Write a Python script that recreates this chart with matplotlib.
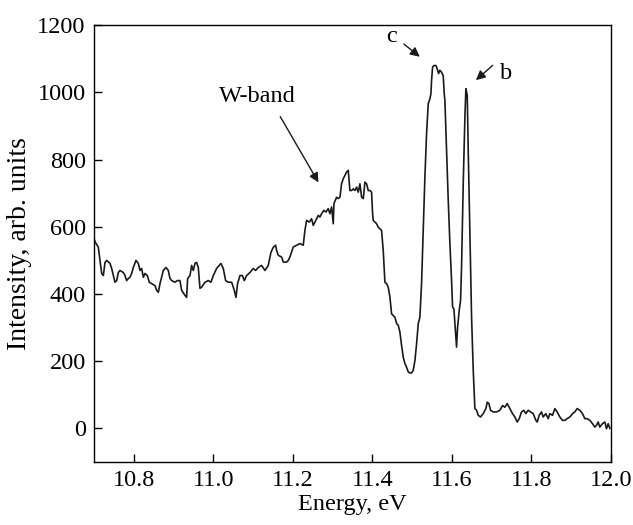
import matplotlib
matplotlib.use("Agg")
import matplotlib.pyplot as plt

plt.rcParams['font.family'] = ['Liberation Serif', 'DejaVu Serif']

# photon energy, eV
energy = [
    10.7000, 10.7025, 10.7109, 10.7151, 10.7193, 10.7235, 10.7277, 10.7319, 10.7402, 10.7444,
    10.7486, 10.7528, 10.7570, 10.7612, 10.7654, 10.7738, 10.7779, 10.7821, 10.7863, 10.7905,
    10.7947, 10.7989, 10.8056, 10.8115, 10.8157, 10.8199, 10.8240, 10.8282, 10.8341, 10.8391,
    10.8450, 10.8534, 10.8576, 10.8618, 10.8660, 10.8701, 10.8743, 10.8810, 10.8869, 10.8911,
    10.8953, 10.9037, 10.9095, 10.9162, 10.9204, 10.9288, 10.9330, 10.9355, 10.9414, 10.9456,
    10.9498, 10.9540, 10.9582, 10.9623, 10.9665, 10.9707, 10.9791, 10.9875, 10.9942, 11.0001,
    11.0084, 11.0193, 11.0252, 11.0311, 11.0378, 11.0462, 11.0529, 11.0571, 11.0612, 11.0671,
    11.0730, 11.0780, 11.0839, 11.0923, 11.1006, 11.1065, 11.1132, 11.1216, 11.1300, 11.1383,
    11.1451, 11.1509, 11.1568, 11.1593, 11.1635, 11.1719, 11.1761, 11.1845, 11.1886, 11.1928,
    11.1970, 11.2012, 11.2096, 11.2180, 11.2263, 11.2305, 11.2347, 11.2414, 11.2473, 11.2515,
    11.2557, 11.2641, 11.2683, 11.2725, 11.2783, 11.2833, 11.2892, 11.2934, 11.2976, 11.3018,
    11.3035, 11.3102, 11.3144, 11.3186, 11.3227, 11.3269, 11.3311, 11.3353, 11.3395, 11.3437,
    11.3479, 11.3521, 11.3563, 11.3605, 11.3647, 11.3689, 11.3731, 11.3773, 11.3814, 11.3856,
    11.3898, 11.3940, 11.3982, 11.4007, 11.4024, 11.4066, 11.4108, 11.4149, 11.4191, 11.4233,
    11.4275, 11.4317, 11.4359, 11.4401, 11.4443, 11.4485, 11.4527, 11.4569, 11.4611, 11.4652,
    11.4694, 11.4736, 11.4778, 11.4820, 11.4862, 11.4904, 11.4946, 11.4988, 11.5030, 11.5072,
    11.5114, 11.5156, 11.5197, 11.5239, 11.5281, 11.5323, 11.5365, 11.5407, 11.5449, 11.5474,
    11.5491, 11.5516, 11.5549, 11.5600, 11.5633, 11.5667, 11.5700, 11.5742, 11.5784, 11.5809,
    11.5826, 11.5868, 11.5910, 11.5952, 11.5994, 11.6019, 11.6052, 11.6077, 11.6119, 11.6145,
    11.6186, 11.6220, 11.6245, 11.6287, 11.6329, 11.6354, 11.6388, 11.6413, 11.6455, 11.6497,
    11.6539, 11.6580, 11.6622, 11.6664, 11.6723, 11.6790, 11.6857, 11.6890, 11.6932, 11.6974,
    11.7041, 11.7125, 11.7209, 11.7276, 11.7334, 11.7393, 11.7460, 11.7527, 11.7586, 11.7645,
    11.7695, 11.7754, 11.7812, 11.7862, 11.7921, 11.7980, 11.8047, 11.8114, 11.8148, 11.8198,
    11.8256, 11.8298, 11.8365, 11.8424, 11.8466, 11.8533, 11.8592, 11.8650, 11.8717, 11.8784,
    11.8843, 11.8902, 11.8969, 11.9036, 11.9094, 11.9153, 11.9220, 11.9287, 11.9346, 11.9404,
    11.9471, 11.9539, 11.9597, 11.9639, 11.9681, 11.9723, 11.9790, 11.9849, 11.9891, 11.9933,
    11.9975,
]

# intensity, arb. units
intensity = [
    565, 556, 539, 500, 461, 455, 494, 500, 491, 476,
    455, 435, 440, 464, 470, 464, 455, 440, 446, 450,
    461, 479, 500, 491, 470, 476, 450, 461, 455, 435,
    431, 425, 411, 405, 431, 450, 470, 479, 470, 446,
    440, 435, 440, 440, 411, 396, 390, 446, 455, 485,
    470, 491, 494, 479, 417, 420, 435, 440, 435, 455,
    476, 491, 476, 440, 435, 435, 411, 390, 431, 455,
    455, 440, 455, 464, 476, 470, 479, 485, 470, 485,
    524, 539, 545, 530, 515, 510, 495, 495, 500, 510,
    525, 540, 545, 550, 545, 589, 619, 614, 624, 604,
    614, 634, 629, 639, 649, 644, 654, 639, 659, 609,
    669, 688, 684, 688, 728, 743, 753, 763, 768, 708,
    708, 713, 708, 718, 703, 728, 688, 684, 733, 728,
    708, 708, 703, 639, 619, 614, 609, 599, 594, 589,
    530, 435, 431, 420, 391, 341, 336, 331, 312, 307,
    287, 247, 212, 193, 182, 168, 165, 165, 173, 202,
    252, 312, 331, 431, 589, 748, 877, 966, 981, 996,
    1036, 1075, 1080, 1080, 1070, 1056, 1066, 1060, 1050, 996,
    976, 827, 679, 550, 440, 361, 356, 312, 242, 301,
    351, 381, 480, 728, 926, 1011, 991, 827, 579, 331,
    173, 59, 54, 39, 34, 44, 59, 78, 74, 54,
    49, 49, 54, 68, 63, 74, 59, 44, 34, 19,
    29, 49, 54, 44, 54, 49, 44, 24, 19, 39,
    49, 34, 44, 29, 44, 39, 59, 49, 34, 24,
    24, 29, 34, 44, 49, 59, 54, 44, 29, 29,
    24, 14, 4, 9, 19, 4, 14, 19, -1, 14,
    0,
]

x_ticks = [10.8, 11.0, 11.2, 11.4, 11.6, 11.8, 12.0]
y_ticks = [0, 200, 400, 600, 800, 1000, 1200]

fig = plt.figure(figsize=(6.33, 5.25), dpi=100)
ax = fig.add_axes([0.1485, 0.12, 0.8165, 0.832])

ax.plot(energy, intensity, color='#1a1a1a', lw=1.2)

ax.set_xlim(10.7, 12.0)
ax.set_ylim(-100, 1200)
ax.set_xticks(x_ticks)
ax.set_xticklabels([f"{t:.1f}" for t in x_ticks])
ax.set_yticks(y_ticks)
ax.tick_params(direction='in', length=6, width=1, labelsize=17.5, pad=6)
for s in ax.spines.values():
    s.set_linewidth(1)

ax.set_xlabel('Energy, eV', fontsize=17.5, labelpad=2)
ax.set_ylabel('Intensity, arb. units', fontsize=20, labelpad=4)

# labels with arrows
arrow = dict(arrowstyle='-|>', color='#1a1a1a', lw=1, mutation_scale=14)
ax.text(11.11, 988, 'W-band', fontsize=17.5, ha='center', va='center')
ax.annotate('', xy=(11.268, 725), xytext=(11.165, 935), arrowprops=arrow)
ax.text(11.449, 1167, 'c', fontsize=17.5, ha='center', va='center')
ax.annotate('', xy=(11.525, 1101), xytext=(11.474, 1149), arrowprops=arrow)
ax.text(11.7377, 1057, 'b', fontsize=17.5, ha='center', va='center')
ax.annotate('', xy=(11.6555, 1031), xytext=(11.708, 1086), arrowprops=arrow)

fig.savefig('out.png', dpi=100)
